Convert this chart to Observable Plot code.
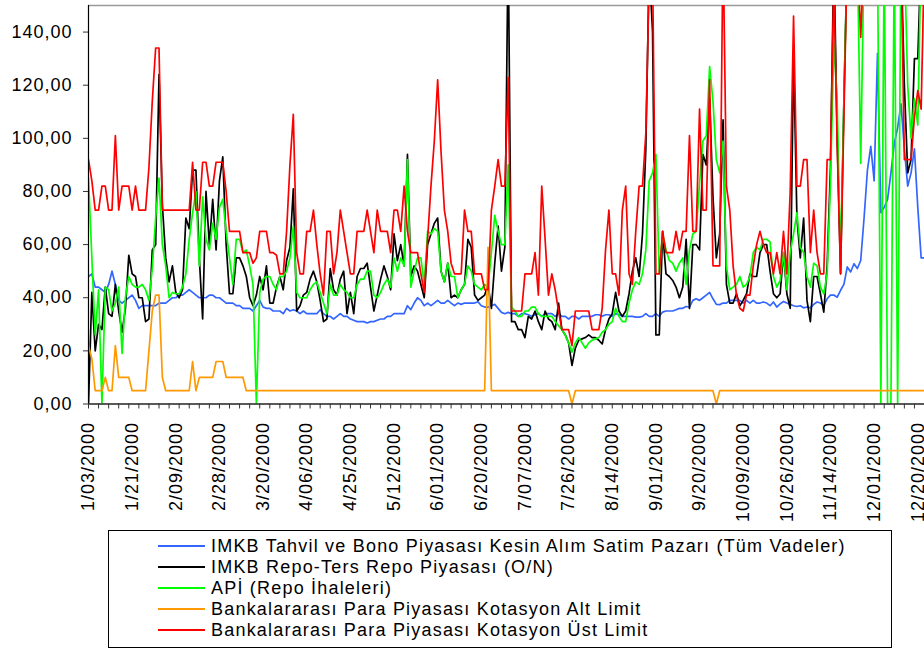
<!DOCTYPE html>
<html><head><meta charset="utf-8">
<script src="https://cdn.jsdelivr.net/npm/d3@7"></script>
<script src="https://cdn.jsdelivr.net/npm/@observablehq/plot@0.6"></script>
<style>
body{margin:0;background:#fff;font-family:"Liberation Sans",Arial,sans-serif;}
#chart{position:relative;width:924px;height:650px;overflow:hidden;background:#fff;}
#legend{position:absolute;left:108px;top:530px;width:782px;height:116px;border:1.5px solid #000;background:#fff;}
.row{position:absolute;left:0;height:21px;width:780px;}
.sw{position:absolute;left:49px;top:9.5px;width:47px;height:2px;}
.lt{position:absolute;left:102px;top:0;font-size:18px;letter-spacing:1.2px;white-space:nowrap;line-height:21px;color:#000;}
</style></head><body><div id="chart"></div>
<script>
const tickLabels = ["1/03/2000","1/21/2000","2/09/2000","2/28/2000","3/20/2000","4/06/2000","4/25/2000","5/12/2000","6/01/2000","6/20/2000","7/07/2000","7/26/2000","8/14/2000","9/01/2000","9/20/2000","10/09/2000","10/26/2000","11/14/2000","12/01/2000","12/20/2000"];
const labelStep = 13;
const yTicks = [0,20,40,60,80,100,120,140];
const seriesNames = [
  "IMKB Tahvil ve Bono Piyasası Kesin Alım Satim Pazarı (Tüm Vadeler)",
  "IMKB Repo-Ters Repo Piyasası (O/N)",
  "APİ (Repo İhaleleri)",
  "Bankalararası Para Piyasası Kotasyon Alt Limit",
  "Bankalararası Para Piyasası Kotasyon Üst Limit"
];
const seriesColors = ["#3366ff","#000000","#00ff00","#ff9900","#ff0000"];

const tahvil = [
48,49,44,44,43,42,45,50,45,39,
38,39,40,41,39,36,37,37,37,37,
37,38,38,38,39,40,40,41,41,42,
43,42,41,40,40,40,41,41,40,40,
39,38,38,38,37,37,36,36,36,35,
37,39,36.5,36,36,35,35,35,34,36,
35,35.5,35,34,35,34,34,34,34,35.5,
34,33,33,32,33,34,33,33,32,31.5,
31,31,31,30.5,31,31,31.5,32,32,33,
33,34,34,34,34,37,35.5,38,40,39,
37,38,37,38,39,38,38,39,38,37,
38,37.5,38,38,38,38,38.5,37,36.5,36.5,
37,37.5,36,34.5,34,34.5,34,34,33,34,
34,33.6,33,33.6,34,33,34,34,34,33,
34,33,33,32,33,33,32,33,33,33,
33,33.6,33.6,33,33.6,33.6,33,34,33.6,33,
33,33,33,32.7,32.7,33,34,33,33,34,
33,34.6,35,35,35,35.5,36,36,36.7,36.5,
39,39.6,39,40,41,42,39.6,37.5,37.4,38,
38,39,39,39,39,38,39,38,39,38,
38,38.4,38,37,38.4,36.5,37.7,38.6,38,37.5,
37,36.7,37,36.2,36.5,36.2,37.5,38.4,38,37,
39.6,41,41,40.2,42.8,45,51.6,49.7,52.8,51,
54,70,88,97,84,132,72,74,77,87,
98,104,113,96,82,87,96,74,55,55];

const repo = [
0,42,20,30,28,44,34,33,45,35,
27,36,56,49,48,40,40,31,32,58,
60,124,75,55,46,52,42,40,43,70,
66,88,88,55,32,80,60,77,58,84,
93,60,41.5,41.5,55,55,52,48,40,37,
41,48,43,52,38,38,44,48,43,54,
59,81,35,37,41,42,47,50,46,39,
31,32,51,43,41,47,50,34,42,34,
48,51,51,53,44,35,41,47,52,48,
43,64,54,60,52,94,48,52,50,45,
40,60,64,68,70,50,46,53,40,41,
40,43,45,62,59,41,39,40,41,45,
36,53,67,50,59,175,31,31,28,28,
25,33,32,35,31,28,35,32,31,28,
38,28,26,23,14.5,21,24,24.5,25,26,
25,25,24,22.6,28,32,34,42,35,33,
35,41.5,50,55,48,64,96,165,140,26,
26,65,49,48,46.5,44,40,44,62,36,
60,60,58,94,90,115,78,55,64,107,
45,38,38,41.5,37,39,41.5,49,48,48,
57,60,60,50,41.5,40,41.5,57,41.5,36,
132,70,55,70,39,31,48,48,41.5,34.6,
52,89,170,100,49,115,170,170,170,170,
170,170,170,170,170,170,170,170,170,170,
170,170,170,120,87,92,130,130,170,170];

const api = [
85,55,26,43,0,44,43,35,38,44,
19,40,48,45,44,44,45,43,39,51,
70,85,60,52,40,42,41.5,41.5,44,49,
62,72,80,52,78,62,58,68,62,74,
77,65,55,45,62,62,57,58,52,45,
0,42,47,48,48,45,43,48,48,50,
55,67,42,40,40,40,43,45,46,42,
38,34,45,41,41,45,43,42,40,40,
45,47,47,50,50,41,40,42,45,47,
44,55,50,55,52,92,44,50,55,55,
45,65,64,66,65,50,46,53,48,48,
40,43,45,52,50,45,44,43,45,44,
57,71,65,60,60,90,36.5,35,33,33,
35,35,36.5,36.5,34,33,33,33,33,31,
29.5,28,26,23,19.5,23,25,23,21,23,
24,24.5,25,27,28,30,31,36,33,31,
31,38,43,46,45,49,58,84,87,94,
49,64,58,54,53,50,53,55,45,58,
64,65,83,99,101,127,114,92,87,99,
52,43,44,45,48,44,45,48,57,59,
58,62,62,61,48,44,46.5,57,43,57,
64,72,59,57,48,44,53,52,44,41.5,
49,83,136,114,54,114,170,170,170,170,
90.6,170,170,170,170,170,0,170,0,0,
170,0,170,170,120,100,115,105,170,170];

const altLimit = [
22,17,5,5,5,10,5,5,22,10,
10,10,10,5,5,5,5,5,20,35,
41,41,10,5,5,5,5,5,5,5,
5,16,5,10,10,10,10,10,16,16,
16,10,10,10,10,10,10,5,5,5,
5,5,5,5,5,5,5,5,5,5,
5,5,5,5,5,5,5,5,5,5,
5,5,5,5,5,5,5,5,5,5,
5,5,5,5,5,5,5,5,5,5,
5,5,5,5,5,5,5,5,5,5,
5,5,5,5,5,5,5,5,5,5,
5,5,5,5,5,5,5,5,5,59,
5,5,5,5,5,5,5,5,5,5,
5,5,5,5,5,5,5,5,5,5,
5,5,5,5,0,5,5,5,5,5,
5,5,5,5,5,5,5,5,5,5,
5,5,5,5,5,5,5,5,5,5,
5,5,5,5,5,5,5,5,5,5,
5,5,5,5,5,5,5,0,5,5,
5,5,5,5,5,5,5,5,5,5,
5,5,5,5,5,5,5,5,5,5,
5,5,5,5,5,5,5,5,5,5,
5,5,5,5,5,5,5,5,5,5,
5,5,5,5,5,5,5,5,5,5,
5,5,5,5,5,5,5,5,5,5];

const ustLimit = [
92,84,73,73,82,82,73,73,101,73,
82,82,82,73,82,73,73,73,89,114,
134,134,73,73,73,73,73,73,73,73,
73,91,73,73,91,91,82,82,91,91,
91,80,65,65,65,65,57,57,57,53,
55,65,65,65,57,57,56,49,49,65,
90,109,57,49,49,65,65,73,60,49,
41,65,65,49,57,73,65,57,49,49,
65,65,65,73,65,57,73,65,65,65,
57,73,73,65,82,65,57,57,57,49,
42,62,82,99,122,95,73,65,53,49,
49,49,73,65,65,49,49,49,43,43,
73,82,92,82,82,123,35,35,35,35,
49,49,49,57,41,82,62,41,49,43,
35,28,28,28,22,35,35,35,35,35,
28,28,28,36,58,73,49,49,41,73,
82,49,45,65,82,82,102,160,165,49,
49,65,57,57,57,65,58,65,65,101,
65,65,111,73,73,122,52,52,52,175,
82,73,52,41,36,35,41,41,52,60,
65,60,57,57,49,57,49,65,49,80,
146,82,82,92,92,57,73,57,49,49,
92,92,160,97,49,108,170,170,170,170,
138,170,170,170,170,170,170,170,170,170,
170,170,170,92,92,92,108,118,111,170];

const allSeries = [tahvil, repo, api, altLimit, ustLimit];
const rows = allSeries.map((vals, s) => vals.map((v, i) => ({i, v, s})));
const lastIndex = tahvil.length - 1;
const labelIdx = tickLabels.map((_, k) => k * labelStep);
const minorTicks = d3.range(0, lastIndex + 1, 3);
const fmt = d => d3.format(".2f")(d).replace(".", ",");

const plot = Plot.plot({
  width: 924,
  height: 525,
  marginLeft: 88,
  marginRight: 0,
  marginTop: 5,
  marginBottom: 121.5,
  x: {domain: [0, lastIndex], axis: null},
  y: {domain: [0, 150], axis: null},
  style: "font-family:'Liberation Sans',Arial,sans-serif;font-size:18px;letter-spacing:1px;color:#000;background:#fff;",
  marks: [
    Plot.ruleY([150], {stroke: "#9a9a9a", strokeWidth: 1.5}),
    ...rows.map((r, s) => Plot.line(r, {x: "i", y: "v", stroke: seriesColors[s], strokeWidth: 1.7, clip: true})),
    Plot.ruleX([0], {stroke: "#000", strokeWidth: 1.2}),
    Plot.ruleY([0], {stroke: "#222", strokeWidth: 1.5}),
    Plot.axisY({ticks: yTicks, tickSize: 5, tickPadding: 11, tickFormat: fmt, stroke: "#333", fill: "#000", label: null}),
    Plot.axisX({ticks: minorTicks, tickSize: 5, tickFormat: () => "", stroke: "#333", label: null}),
    Plot.axisX({ticks: labelIdx, tickSize: 0, tickPadding: 18, tickRotate: -90, fill: "#000", label: null,
      tickFormat: d => tickLabels[Math.round(d / labelStep)]})
  ]
});
const chart = document.getElementById("chart");
chart.appendChild(plot);

const legend = document.createElement("div");
legend.id = "legend";
seriesNames.forEach((name, k) => {
  const row = document.createElement("div");
  row.className = "row";
  row.style.top = (4.5 + k * 21) + "px";
  const sw = document.createElement("div");
  sw.className = "sw";
  sw.style.background = seriesColors[k];
  const lt = document.createElement("div");
  lt.className = "lt";
  lt.textContent = name;
  row.appendChild(sw);
  row.appendChild(lt);
  legend.appendChild(row);
});
chart.appendChild(legend);
</script></body></html>
